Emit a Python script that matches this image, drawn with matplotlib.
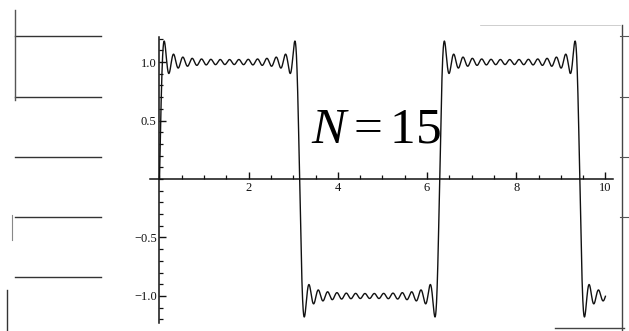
import numpy as np
import matplotlib
matplotlib.use("Agg")
import matplotlib.pyplot as plt
from matplotlib.lines import Line2D
from matplotlib.ticker import MultipleLocator, FixedLocator

# Partial Fourier sum of a square wave with N odd harmonics
n_terms = 15
x_start, x_end = 0.0, 10.0
x_ticks = [2, 4, 6, 8, 10]
y_ticks = [-1.0, -0.5, 0.5, 1.0]
y_tick_labels = ["\u22121.0", "\u22120.5", "0.5", "1.0"]

x = np.linspace(x_start, x_end, 6000)
y = np.zeros_like(x)
for k in range(1, n_terms + 1):
    m = 2 * k - 1
    y += np.sin(m * x) / m
y *= 4 / np.pi

plt.rcParams["mathtext.fontset"] = "custom"
plt.rcParams["mathtext.rm"] = "Liberation Serif"
plt.rcParams["mathtext.it"] = "Liberation Serif:italic"

fig = plt.figure(figsize=(6.29, 3.31), dpi=100)
ax = fig.add_axes([150 / 629, 1 - 323 / 331, (613 - 150) / 629, (323 - 37) / 331])
ink = "#111111"

ax.plot(x, y, color=ink, lw=1.0)
ax.set_xlim(-0.213, 10.17)
ax.set_ylim(-1.231, 1.214)

for s in ("top", "right"):
    ax.spines[s].set_visible(False)
ax.spines["left"].set_position(("data", 0))
ax.spines["bottom"].set_position(("data", 0))
for s in ("left", "bottom"):
    ax.spines[s].set_color(ink)
    ax.spines[s].set_linewidth(1.1)

ax.xaxis.set_major_locator(FixedLocator(x_ticks))
ax.xaxis.set_minor_locator(MultipleLocator(0.5))
ax.yaxis.set_major_locator(FixedLocator(y_ticks))
ax.yaxis.set_minor_locator(MultipleLocator(0.1))
ax.set_yticklabels(y_tick_labels)

for lab in ax.get_xticklabels() + ax.get_yticklabels():
    lab.set_fontfamily("Liberation Serif")
    lab.set_fontsize(9)
    lab.set_color(ink)

ax.tick_params(axis="x", which="major", direction="in", length=5, width=1.0,
               pad=2, color=ink)
ax.tick_params(axis="x", which="minor", direction="in", length=3, width=0.9, color=ink)
ax.tick_params(axis="y", which="major", direction="in", length=5, width=1.0,
               pad=2, color=ink)
ax.tick_params(axis="y", which="minor", direction="in", length=3, width=0.9, color=ink)

ax.text(4.85, 0.43, r"$N=15$", fontsize=37, ha="center", va="center", color="black")

# Page rulings around the figure
def fline(xs, ys, lw=1.0, color="#333333"):
    fig.add_artist(Line2D([v / 629 for v in xs], [1 - v / 331 for v in ys],
                          transform=fig.transFigure, lw=lw, color=color))

for yy in (36, 97, 157, 217, 277):
    fline([15, 101], [yy, yy], lw=1.0)
fline([15, 15], [10, 100], lw=1.0, color="#555555")
fline([12, 12], [215, 240], lw=0.8, color="#888888")
fline([7, 7], [290, 331], lw=1.0)
fline([622, 622], [25, 331], lw=1.0, color="#444444")
for yy in (36, 97, 157, 217):
    fline([620, 629], [yy, yy], lw=0.8, color="#555555")
fline([555, 624], [328, 328], lw=1.0, color="#444444")
fline([480, 620], [25, 25], lw=0.5, color="#bbbbbb")

fig.savefig("out.png", dpi=100, facecolor="white")
